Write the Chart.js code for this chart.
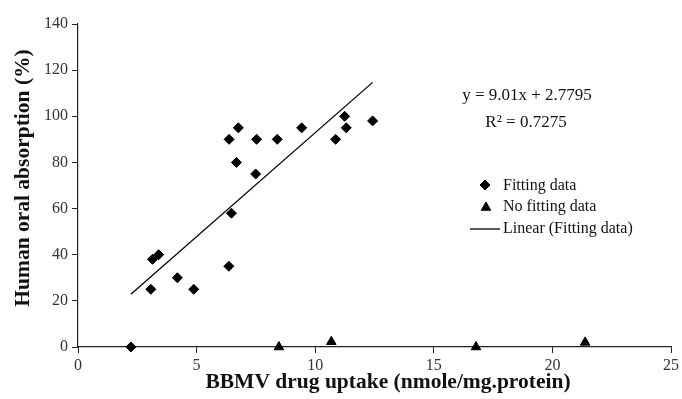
<!DOCTYPE html>
<html><head><meta charset="utf-8">
<script src="https://cdn.jsdelivr.net/npm/chart.js@4/dist/chart.umd.min.js"></script>
<style>html,body{margin:0;padding:0;background:#fff}#c{display:block}</style>
</head><body>
<canvas id="c" width="682" height="399"></canvas>
<script>
// ---- data ----
const fitX = [2.23, 3.07, 3.14, 3.40, 4.19, 4.88, 6.36, 6.47, 6.37, 6.76, 6.68, 7.53, 7.49, 8.40, 9.43, 10.86, 11.24, 11.31, 12.42];
const fitY = [0, 25, 38, 40, 30, 25, 35, 58, 90, 95, 80, 90, 75, 90, 95, 90, 100, 95, 98];
const noFitX = [8.47, 10.68, 16.78, 21.38];
const noFitY = [0, 2.3, 0, 2.0];
const lineX = [2.23, 12.42];
const lineY = [22.9, 114.7];
const xTicks = [0, 5, 10, 15, 20, 25];
const yTicks = [0, 20, 40, 60, 80, 100, 120, 140];
const xTitle = 'BBMV drug uptake (nmole/mg.protein)';
const yTitle = 'Human oral absorption (%)';
const equationText = 'y = 9.01x + 2.7795';
const r2Text = 'R² = 0.7275';
const legendLabels = ['Fitting data', 'No fitting data', 'Linear (Fitting data)'];

const SERIF = "'Liberation Serif', 'Times New Roman', serif";
const toPts = (xs, ys) => xs.map((x, i) => ({x: x, y: ys[i]}));

const textPlugin = {
  id: 'textPlugin',
  afterDraw(chart) {
    const ctx = chart.ctx;
    ctx.save();
    ctx.fillStyle = '#111';
    // axis titles
    ctx.font = 'bold 21.5px ' + SERIF;
    ctx.textAlign = 'center';
    ctx.textBaseline = 'alphabetic';
    ctx.fillText(xTitle, 388, 388);
    ctx.save();
    ctx.translate(29, 178);
    ctx.rotate(-Math.PI / 2);
    ctx.fillText(yTitle, 0, 0);
    ctx.restore();
    // equation
    ctx.font = '17px ' + SERIF;
    ctx.fillText(equationText, 527, 100);
    ctx.fillText(r2Text, 526, 127);
    // legend
    ctx.textAlign = 'left';
    ctx.font = '16px ' + SERIF;
    ctx.fillText(legendLabels[0], 503, 190);
    ctx.fillText(legendLabels[1], 503, 211);
    ctx.fillText(legendLabels[2], 503, 233);
    ctx.fillStyle = '#000';
    ctx.strokeStyle = '#000';
    ctx.lineWidth = 1;
    Chart.helpers.drawPoint(ctx, {pointStyle: 'rectRot', radius: 5, borderWidth: 1, rotation: 0}, 485, 185);
    Chart.helpers.drawPoint(ctx, {pointStyle: 'triangle', radius: 5.5, borderWidth: 1, rotation: 0}, 486, 207.5);
    ctx.lineWidth = 1.3;
    ctx.beginPath();
    ctx.moveTo(470, 229);
    ctx.lineTo(500, 229);
    ctx.stroke();
    ctx.restore();
  }
};

new Chart(document.getElementById('c'), {
  type: 'scatter',
  data: {
    datasets: [
      {
        label: legendLabels[2],
        type: 'line',
        data: toPts(lineX, lineY),
        borderColor: '#000',
        borderWidth: 1.3,
        pointRadius: 0,
        fill: false,
        clip: false,
        order: 3
      },
      {
        label: legendLabels[0],
        data: toPts(fitX, fitY),
        pointStyle: 'rectRot',
        pointRadius: 5,
        backgroundColor: '#000',
        borderColor: '#000',
        borderWidth: 1,
        clip: false,
        order: 1
      },
      {
        label: legendLabels[1],
        data: toPts(noFitX, noFitY),
        pointStyle: 'triangle',
        pointRadius: 5.5,
        backgroundColor: '#000',
        borderColor: '#000',
        borderWidth: 1,
        clip: false,
        order: 2
      }
    ]
  },
  options: {
    responsive: false,
    animation: false,
    devicePixelRatio: 1,
    layout: {padding: {left: 0, right: 10, top: 24, bottom: 0}},
    plugins: {legend: {display: false}, tooltip: {enabled: false}},
    scales: {
      x: {
        type: 'linear',
        min: 0, max: 25,
        afterBuildTicks: s => { s.ticks = xTicks.map(v => ({value: v})); },
        afterFit: s => { s.height = 52; },
        grid: {display: true, drawOnChartArea: false, drawTicks: true, tickLength: 6, color: '#222', lineWidth: 1},
        border: {display: true, color: '#222', width: 1.2},
        ticks: {font: {family: SERIF, size: 16}, color: '#333', padding: 3, maxRotation: 0}
      },
      y: {
        type: 'linear',
        min: 0, max: 140,
        afterBuildTicks: s => { s.ticks = yTicks.map(v => ({value: v})); },
        afterFit: s => { s.width = 78; },
        grid: {display: true, drawOnChartArea: false, drawTicks: true, tickLength: 6, color: '#222', lineWidth: 1},
        border: {display: true, color: '#222', width: 1.2},
        ticks: {font: {family: SERIF, size: 16}, color: '#333', padding: 4}
      }
    }
  },
  plugins: [textPlugin]
});
</script>
</body></html>
